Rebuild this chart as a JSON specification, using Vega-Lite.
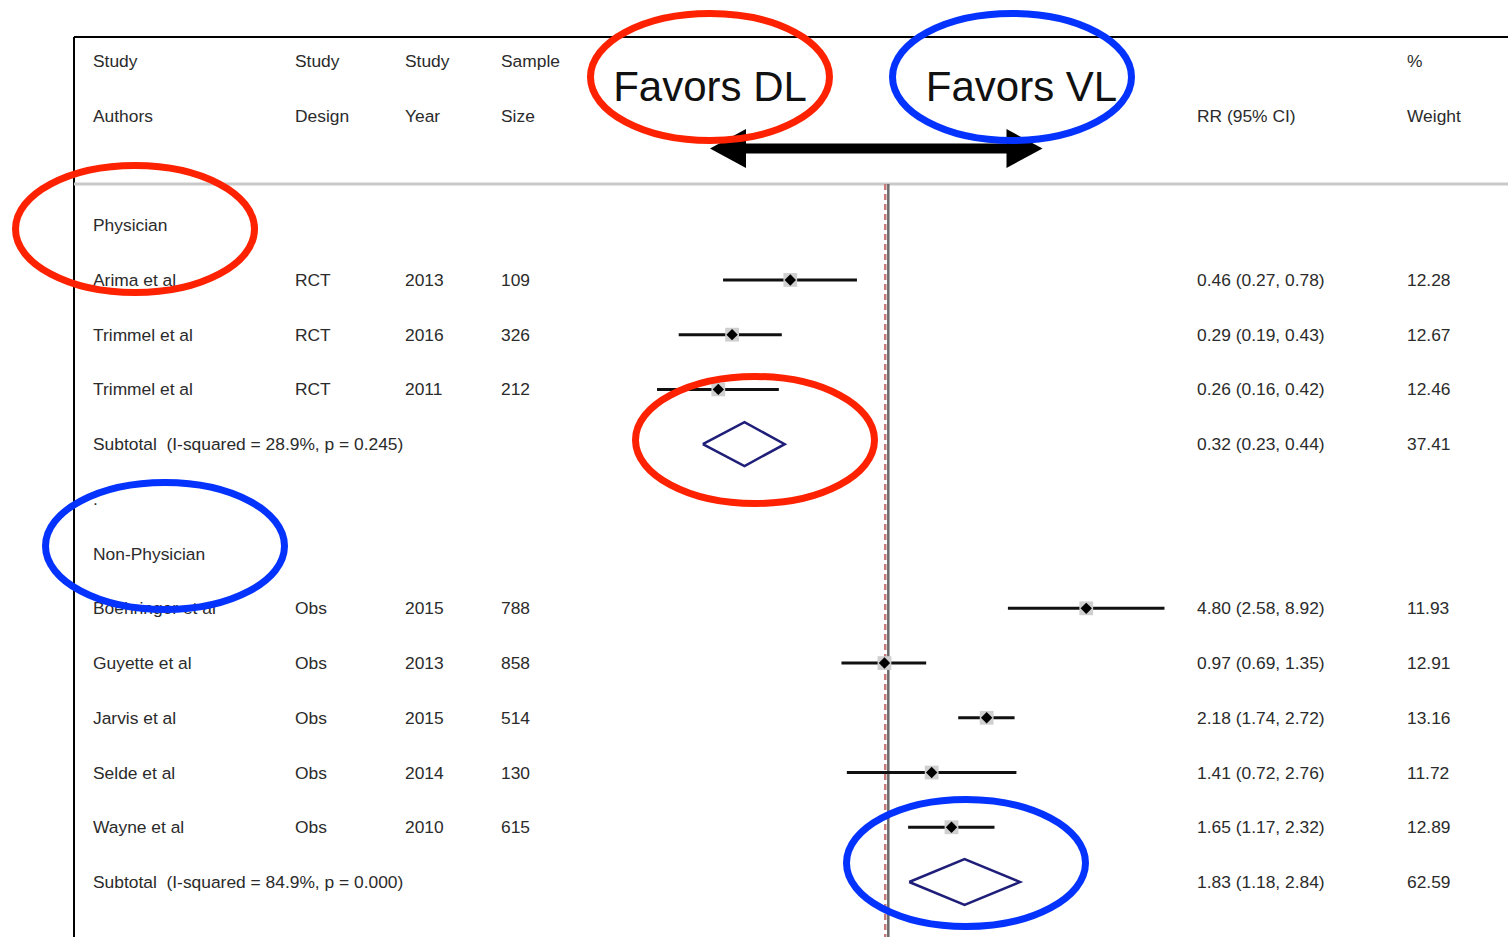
{
  "$schema": "https://vega.github.io/schema/vega-lite/v6.json",
  "width": 1508,
  "height": 937,
  "autosize": {"type": "none"},
  "padding": 0,
  "background": "white",
  "config": {"view": {"stroke": null}},
  "datasets": {
    "rows": [
      {"row": 0, "author": "Study", "design": "Study", "year": "Study", "size": "Sample", "rrtext": "", "weight": "%"},
      {"row": 1, "author": "Authors", "design": "Design", "year": "Year", "size": "Size", "rrtext": "RR (95% CI)", "weight": "Weight"},
      {"row": 3, "author": "Physician", "design": "", "year": "", "size": "", "rrtext": "", "weight": ""},
      {"row": 4, "author": "Arima et al", "design": "RCT", "year": "2013", "size": "109", "rrtext": "0.46 (0.27, 0.78)", "weight": "12.28", "est": 0.46, "lo": 0.27, "hi": 0.78},
      {"row": 5, "author": "Trimmel et al", "design": "RCT", "year": "2016", "size": "326", "rrtext": "0.29 (0.19, 0.43)", "weight": "12.67", "est": 0.29, "lo": 0.19, "hi": 0.43},
      {"row": 6, "author": "Trimmel et al", "design": "RCT", "year": "2011", "size": "212", "rrtext": "0.26 (0.16, 0.42)", "weight": "12.46", "est": 0.26, "lo": 0.16, "hi": 0.42},
      {"row": 7, "author": "Subtotal\u00a0 (I-squared = 28.9%, p = 0.245)", "design": "", "year": "", "size": "", "rrtext": "0.32 (0.23, 0.44)", "weight": "37.41"},
      {"row": 8, "author": ".", "design": "", "year": "", "size": "", "rrtext": "", "weight": ""},
      {"row": 9, "author": "Non-Physician", "design": "", "year": "", "size": "", "rrtext": "", "weight": ""},
      {"row": 10, "author": "Boehringer et al", "design": "Obs", "year": "2015", "size": "788", "rrtext": "4.80 (2.58, 8.92)", "weight": "11.93", "est": 4.8, "lo": 2.58, "hi": 8.92},
      {"row": 11, "author": "Guyette et al", "design": "Obs", "year": "2013", "size": "858", "rrtext": "0.97 (0.69, 1.35)", "weight": "12.91", "est": 0.97, "lo": 0.69, "hi": 1.35},
      {"row": 12, "author": "Jarvis et al", "design": "Obs", "year": "2015", "size": "514", "rrtext": "2.18 (1.74, 2.72)", "weight": "13.16", "est": 2.18, "lo": 1.74, "hi": 2.72},
      {"row": 13, "author": "Selde et al", "design": "Obs", "year": "2014", "size": "130", "rrtext": "1.41 (0.72, 2.76)", "weight": "11.72", "est": 1.41, "lo": 0.72, "hi": 2.76},
      {"row": 14, "author": "Wayne et al", "design": "Obs", "year": "2010", "size": "615", "rrtext": "1.65 (1.17, 2.32)", "weight": "12.89", "est": 1.65, "lo": 1.17, "hi": 2.32},
      {"row": 15, "author": "Subtotal\u00a0 (I-squared = 84.9%, p = 0.000)", "design": "", "year": "", "size": "", "rrtext": "1.83 (1.18, 2.84)", "weight": "62.59"}
    ],
    "columns": [
      {"key": "author", "col": 0},
      {"key": "design", "col": 1},
      {"key": "year", "col": 2},
      {"key": "size", "col": 3},
      {"key": "rrtext", "col": 4},
      {"key": "weight", "col": 5}
    ],
    "subtotals": [
      {"sub": "Physician", "v": 0, "rr": 0.23, "row": 7},
      {"sub": "Physician", "v": 1, "rr": 0.32, "row": 6.6},
      {"sub": "Physician", "v": 2, "rr": 0.44, "row": 7},
      {"sub": "Physician", "v": 3, "rr": 0.32, "row": 7.4},
      {"sub": "Physician", "v": 4, "rr": 0.23, "row": 7},
      {"sub": "Non-Physician", "v": 0, "rr": 1.18, "row": 15},
      {"sub": "Non-Physician", "v": 1, "rr": 1.83, "row": 14.58},
      {"sub": "Non-Physician", "v": 2, "rr": 2.84, "row": 15},
      {"sub": "Non-Physician", "v": 3, "rr": 1.83, "row": 15.42},
      {"sub": "Non-Physician", "v": 4, "rr": 1.18, "row": 15}
    ],
    "frame": [
      {"kind": "top", "x1": 0.0015767, "x2": 135.7, "y1": -0.4385, "y2": -0.4385},
      {"kind": "left", "x1": 0.0015767, "x2": 0.0015767, "y1": -0.4385, "y2": 16.005},
      {"kind": "sep", "x1": 0.0015767, "x2": 135.7, "y1": 2.2473, "y2": 2.2473}
    ],
    "refs": [
      {"kind": "null", "rr": 1.0, "top": 2.2473, "bottom": 16.005},
      {"kind": "overall", "rr": 0.976, "top": 2.2473, "bottom": 16.005}
    ],
    "arrows": [
      {"end": "left", "rr": 0.28077, "row": 1.5987},
      {"end": "right", "rr": 2.9424, "row": 1.5987}
    ],
    "favors": [
      {"label": "Favors DL", "rr": 0.24343, "row": 0.73},
      {"label": "Favors VL", "rr": 2.8733, "row": 0.73}
    ],
    "ellipses": [
      {"side": "DL", "rr": 0.24343, "row": 0.2923},
      {"side": "VL", "rr": 2.6650, "row": 0.2923},
      {"side": "DL", "rr": 0.0025566, "row": 3.0694},
      {"side": "VL", "rr": 0.0032426, "row": 8.8612},
      {"side": "DL", "rr": 0.34775, "row": 6.9245},
      {"side": "VL", "rr": 1.8509, "row": 14.653}
    ]
  },
  "resolve": {"scale": {"x": "independent"}},
  "layer": [
    {
      "data": {"name": "rows"},
      "transform": [
        {"fold": ["author", "design", "year", "size", "rrtext", "weight"]},
        {"filter": "datum.value != ''"},
        {"lookup": "key", "from": {"data": {"name": "columns"}, "key": "key", "fields": ["col"]}}
      ],
      "mark": {"type": "text", "align": "left", "baseline": "middle", "dy": 1, "font": "Liberation Sans", "fontSize": 17.4, "color": "#2b2b2b"},
      "encoding": {
        "x": {"field": "col", "type": "quantitative", "axis": null, "scale": {"type": "linear", "domain": [0, 1, 2, 3, 4, 5], "range": [93, 295, 405, 501, 1197, 1407], "nice": false, "zero": false}},
        "y": {"field": "row", "type": "quantitative", "axis": null, "scale": {"domain": [-1.1145, 16.005], "reverse": true, "nice": false, "zero": false}},
        "text": {"field": "value", "type": "nominal"}
      }
    },
    {
      "layer": [
        {
          "data": {"name": "frame"},
          "transform": [{"filter": "datum.kind != 'sep'"}],
          "mark": {"type": "rule", "color": "#000000", "strokeWidth": 2},
          "encoding": {
            "x": {"field": "x1", "type": "quantitative", "axis": null, "scale": {"type": "log", "domain": [0.00087715, 135.7], "nice": false, "zero": false}},
            "x2": {"field": "x2"},
            "y": {"field": "y1", "type": "quantitative", "axis": null, "scale": {"domain": [-1.1145, 16.005], "reverse": true, "nice": false, "zero": false}},
            "y2": {"field": "y2"}
          }
        },
        {
          "data": {"name": "frame"},
          "transform": [{"filter": "datum.kind == 'sep'"}],
          "mark": {"type": "rule", "color": "#c9c9c9", "strokeWidth": 3},
          "encoding": {
            "x": {"field": "x1", "type": "quantitative", "axis": null},
            "x2": {"field": "x2"},
            "y": {"field": "y1", "type": "quantitative", "axis": null},
            "y2": {"field": "y2"}
          }
        },
        {
          "data": {"name": "refs"},
          "transform": [{"filter": "datum.kind == 'null'"}],
          "mark": {"type": "rule", "color": "#6a6a6a", "strokeWidth": 2.5},
          "encoding": {
            "x": {"field": "rr", "type": "quantitative", "axis": null},
            "y": {"field": "top", "type": "quantitative", "axis": null},
            "y2": {"field": "bottom"}
          }
        },
        {
          "data": {"name": "refs"},
          "transform": [{"filter": "datum.kind == 'overall'"}],
          "mark": {"type": "rule", "color": "#c97b7b", "strokeWidth": 2.5, "strokeDash": [6, 4]},
          "encoding": {
            "x": {"field": "rr", "type": "quantitative", "axis": null},
            "y": {"field": "top", "type": "quantitative", "axis": null},
            "y2": {"field": "bottom"}
          }
        },
        {
          "data": {"name": "rows"},
          "transform": [{"filter": "isValid(datum.est)"}],
          "mark": {"type": "rule", "color": "#111111", "strokeWidth": 3},
          "encoding": {
            "x": {"field": "lo", "type": "quantitative", "axis": null},
            "x2": {"field": "hi"},
            "y": {"field": "row", "type": "quantitative", "axis": null}
          }
        },
        {
          "data": {"name": "rows"},
          "transform": [{"filter": "isValid(datum.est)"}],
          "mark": {"type": "point", "shape": "square", "filled": true, "color": "#cfcfcf", "opacity": 1, "size": 190},
          "encoding": {
            "x": {"field": "est", "type": "quantitative", "axis": null},
            "y": {"field": "row", "type": "quantitative", "axis": null}
          }
        },
        {
          "data": {"name": "rows"},
          "transform": [{"filter": "isValid(datum.est)"}],
          "mark": {"type": "point", "shape": "diamond", "filled": true, "color": "#000000", "opacity": 1, "size": 130},
          "encoding": {
            "x": {"field": "est", "type": "quantitative", "axis": null},
            "y": {"field": "row", "type": "quantitative", "axis": null}
          }
        },
        {
          "data": {"name": "subtotals"},
          "mark": {"type": "line", "color": "#1f1f7a", "strokeWidth": 2.5, "strokeJoin": "miter"},
          "encoding": {
            "x": {"field": "rr", "type": "quantitative", "axis": null},
            "y": {"field": "row", "type": "quantitative", "axis": null},
            "detail": {"field": "sub"},
            "order": {"field": "v", "type": "quantitative"}
          }
        },
        {
          "data": {"name": "arrows"},
          "mark": {"type": "line", "color": "#000000", "strokeWidth": 10, "strokeCap": "butt"},
          "encoding": {
            "x": {"field": "rr", "type": "quantitative", "axis": null},
            "y": {"field": "row", "type": "quantitative", "axis": null}
          }
        },
        {
          "data": {"name": "arrows"},
          "mark": {"type": "point", "filled": true, "color": "#000000", "opacity": 1, "size": 1296},
          "encoding": {
            "x": {"field": "rr", "type": "quantitative", "axis": null},
            "y": {"field": "row", "type": "quantitative", "axis": null},
            "shape": {"field": "end", "type": "nominal", "legend": null, "scale": {"domain": ["left", "right"], "range": ["M 1 -1.08 L -1 0 L 1 1.08 Z", "M -1 -1.08 L 1 0 L -1 1.08 Z"]}}
          }
        },
        {
          "data": {"name": "favors"},
          "mark": {"type": "text", "align": "center", "baseline": "alphabetic", "font": "Liberation Sans", "fontSize": 42, "color": "#111111"},
          "encoding": {
            "x": {"field": "rr", "type": "quantitative", "axis": null},
            "y": {"field": "row", "type": "quantitative", "axis": null},
            "text": {"field": "label", "type": "nominal"}
          }
        },
        {
          "data": {"name": "ellipses"},
          "mark": {"type": "point", "filled": false, "strokeWidth": 7, "opacity": 1, "size": 57121, "shape": "M -1 0 C -1 -0.2935 -0.5523 -0.5314 0 -0.5314 C 0.5523 -0.5314 1 -0.2935 1 0 C 1 0.2935 0.5523 0.5314 0 0.5314 C -0.5523 0.5314 -1 0.2935 -1 0 Z"},
          "encoding": {
            "x": {"field": "rr", "type": "quantitative", "axis": null},
            "y": {"field": "row", "type": "quantitative", "axis": null},
            "color": {"field": "side", "type": "nominal", "legend": null, "scale": {"domain": ["DL", "VL"], "range": ["#ff2200", "#0433ff"]}}
          }
        }
      ]
    }
  ]
}
